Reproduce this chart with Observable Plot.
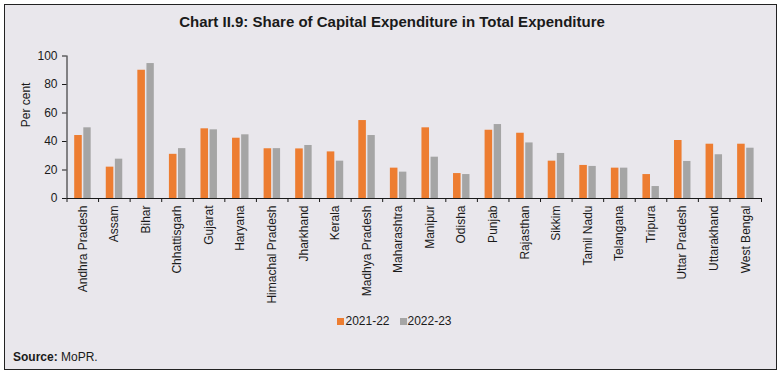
<!DOCTYPE html>
<html>
<head>
<meta charset="utf-8">
<script src="https://cdn.jsdelivr.net/npm/d3@7"></script>
<script src="https://cdn.jsdelivr.net/npm/@observablehq/plot@0.6"></script>
<style>
  html, body { margin: 0; padding: 0; background: #fff; }
  body { width: 784px; height: 376px; position: relative; overflow: hidden;
         font-family: "Liberation Sans", Arial, sans-serif; color: #1a1a1a; }
  #box { position: absolute; left: 4px; top: 4px; width: 773px; height: 366px;
         border: 1px solid #222; background: #e9e7ec; box-sizing: border-box; }
  #title { position: absolute; left: 0; width: 784px; top: 13px; text-align: center;
           font-size: 15px; font-weight: bold; line-height: 17px; }
  #chart { position: absolute; left: 0; top: 0; }
  #legend { position: absolute; top: 314px; left: 0; width: 784px; text-align: center;
            font-size: 12px; padding-left: 5px; box-sizing: border-box; }
  #legend span.item { display: inline-block; margin: 0 5px; }
  #legend i { display: inline-block; width: 7px; height: 7px; margin-right: 1px; vertical-align: 0px; }
  #source { position: absolute; left: 13px; top: 350px; font-size: 12px; }
</style>
</head>
<body>
<div id="box"></div>
<div id="title">Chart II.9: Share of Capital Expenditure in Total Expenditure</div>
<div id="chart"></div>
<div id="legend"></div>
<div id="source"><b>Source:</b> MoPR.</div>
<script>
const states = ["Andhra Pradesh","Assam","Bihar","Chhattisgarh","Gujarat","Haryana",
  "Himachal Pradesh","Jharkhand","Kerala","Madhya Pradesh","Maharashtra","Manipur",
  "Odisha","Punjab","Rajasthan","Sikkim","Tamil Nadu","Telangana","Tripura",
  "Uttar Pradesh","Uttarakhand","West Bengal"];
const years = ["2021-22", "2022-23"];
const v2021_22 = [44.2, 22.0, 90.0, 31.0, 48.9, 42.3, 34.9, 34.8, 32.7, 54.7, 21.3, 49.6,
  17.5, 47.9, 45.8, 26.2, 23.2, 21.3, 16.8, 40.7, 38.1, 38.1];
const v2022_23 = [49.6, 27.6, 94.7, 35.0, 48.2, 44.7, 35.0, 37.2, 26.2, 44.2, 18.5, 29.0,
  16.8, 51.9, 39.0, 31.6, 22.5, 21.3, 8.4, 26.0, 30.7, 35.3];
const yTicks = [0, 20, 40, 60, 80, 100];
const colors = ["#ED7D31", "#A5A5A5"];

const rows1 = states.map((s, i) => ({state: s, idx: i, v: v2021_22[i]}));
const rows2 = states.map((s, i) => ({state: s, idx: i, v: v2022_23[i]}));

const chart = Plot.plot({
  width: 784,
  height: 312,
  marginLeft: 66.5,
  marginRight: 23,
  marginTop: 55.5,
  marginBottom: 114,
  style: {background: "transparent", fontSize: "12px", fontFamily: "'Liberation Sans', Arial, sans-serif", color: "#1a1a1a"},
  x: {domain: [0, states.length], axis: null},
  y: {domain: [0, 100], axis: null},
  marks: [
    Plot.rectY(rows1, {x1: "idx", x2: d => d.idx + 1, y: "v", fill: colors[0], insetLeft: 7.7, insetRight: 16.3}),
    Plot.rectY(rows2, {x1: "idx", x2: d => d.idx + 1, y: "v", fill: colors[1], insetLeft: 16.8, insetRight: 7.4}),
    Plot.axisY({ticks: yTicks, tickSize: 4.5, tickPadding: 5, label: null, stroke: "#1a1a1a", fill: "#1a1a1a"}),
    Plot.ruleX([0], {stroke: "#1a1a1a"}),
    Plot.ruleY([0], {stroke: "#1a1a1a"}),
    Plot.axisX({ticks: d3.range(states.length + 1), tickSize: 4, tickFormat: () => "", label: null, stroke: "#1a1a1a"}),
    Plot.axisX({ticks: d3.range(states.length).map(i => i + 0.5), tickSize: 0, tickPadding: 7,
      tickRotate: -90, tickFormat: v => states[Math.floor(v)], label: null, fill: "#1a1a1a", fontSize: 12}),
    Plot.text(["Per cent"], {frameAnchor: "left", dx: -41, rotate: -90, fontSize: 12, fill: "#1a1a1a"})
  ]
});
document.getElementById("chart").appendChild(chart);

const legend = document.getElementById("legend");
years.forEach((y, i) => {
  const s = document.createElement("span");
  s.className = "item";
  s.innerHTML = `<i style="background:${colors[i]}"></i>${y}`;
  legend.appendChild(s);
});
</script>
</body>
</html>
